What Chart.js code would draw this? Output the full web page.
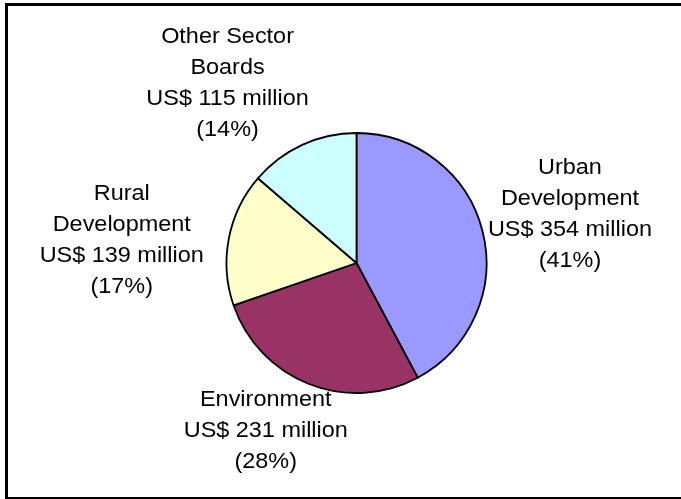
<!DOCTYPE html>
<html>
<head>
<meta charset="utf-8"/>
<style>
  html,body{margin:0;padding:0;background:#fff;width:681px;height:499px;overflow:hidden;}
  .frame{position:absolute;left:5px;top:3px;width:700px;height:491px;
    border-top:3px solid #000;border-left:3px solid #000;border-bottom:2px solid #000;}
  canvas{position:absolute;left:0;top:0;}
</style>
</head>
<body>
<div class="frame"></div>
<canvas id="c" width="681" height="499"></canvas>
<script src="https://cdn.jsdelivr.net/npm/chart.js@4.4.0/dist/chart.umd.min.js"></script>
<script>
// lending by sector board, US$ million
const sectors = [["Urban", "Development"], ["Environment"], ["Rural", "Development"], ["Other Sector", "Boards"]];
const amounts = [354, 231, 139, 115];
const shares  = ["41%", "28%", "17%", "14%"];
const colors  = ["#9999FF", "#993366", "#FFFFCC", "#CCFFFF"];

// where each label block sits, in units of the pie radius from its centre
const labelSpot = [[1.642, -0.377], [-0.698, 1.288], [-1.806, -0.172], [-0.992, -1.381]];

const sliceLabels = {
  id: "sliceLabels",
  afterDatasetsDraw(chart) {
    const arcs = chart.getDatasetMeta(0).data;
    const ctx = chart.ctx;
    ctx.save();
    ctx.font = '22px "Liberation Sans", Arial, sans-serif';
    ctx.fillStyle = "#000";
    ctx.textAlign = "center";
    ctx.textBaseline = "middle";
    const lh = 31;
    arcs.forEach((arc, i) => {
      const lines = [...sectors[i], "US$ " + amounts[i] + " million", "(" + shares[i] + ")"];
      const cx = arc.x + arc.outerRadius * labelSpot[i][0];
      const cy = arc.y + arc.outerRadius * labelSpot[i][1];
      const top = cy - (lines.length - 1) * lh / 2;
      lines.forEach((t, k) => {
        // the text runs a little wide
        ctx.save();
        ctx.translate(cx, top + k * lh);
        ctx.scale(1.065, 1);
        ctx.fillText(t, 0, 0);
        ctx.restore();
      });
    });
    ctx.restore();
  }
};

new Chart(document.getElementById("c"), {
  type: "pie",
  data: {
    labels: sectors.map(s => s.join(" ")),
    datasets: [{
      data: amounts,
      backgroundColor: colors,
      borderColor: "#000",
      borderWidth: 1.8,
      borderAlign: "center"
    }]
  },
  options: {
    responsive: false,
    animation: false,
    layout: { padding: { left: 225.6, right: 193.6, top: 132.1, bottom: 105.1 } },
    plugins: { legend: { display: false }, tooltip: { enabled: false } }
  },
  plugins: [sliceLabels]
});
</script>
</body>
</html>
